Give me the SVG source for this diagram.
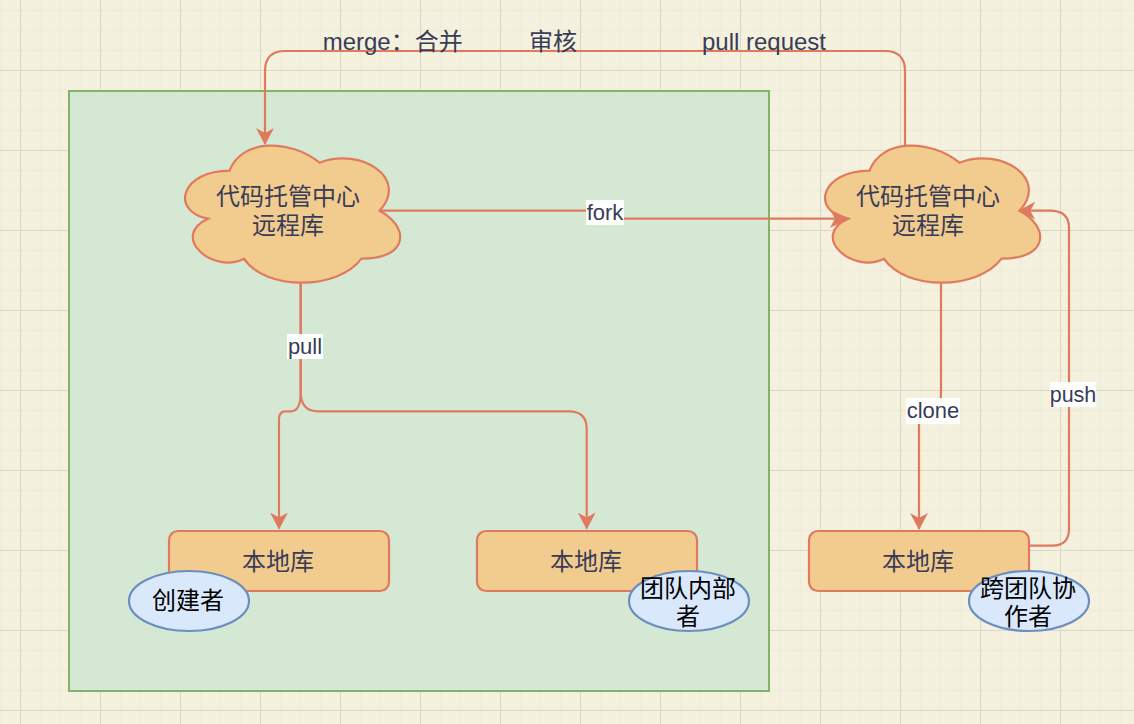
<svg xmlns="http://www.w3.org/2000/svg" width="1134" height="724" viewBox="0 0 1134 724">
<style>
.n{fill:#F2CC8F;stroke:#E07A5F;stroke-width:2.2}
.e{fill:#dae8fc;stroke:#6c8ebf;stroke-width:2.2}
.c{fill:none;stroke:#E07A5F;stroke-width:2.2}
.t{font-family:"Liberation Sans","Noto Sans CJK SC",sans-serif;font-size:24px;fill:#393C56;text-anchor:middle}
.b{fill:#000}
.l{font-family:"Liberation Sans","Noto Sans CJK SC",sans-serif;font-size:22px;fill:#393C56;text-anchor:middle}
.lb{fill:#fff;stroke:none}
</style>
<defs>
<marker id="a" markerUnits="userSpaceOnUse" markerWidth="20" markerHeight="20" refX="16" refY="9" orient="auto"><path d="M0 0L17 9L0 18L5 9Z" fill="#E07A5F"/></marker>
<marker id="f" markerUnits="userSpaceOnUse" markerWidth="22" markerHeight="20" refX="19" refY="9" orient="auto"><path d="M0 0L20 9L0 18L5 9Z" fill="#E07A5F"/></marker>
<pattern id="g" x="20" y="-10" width="80" height="80" patternUnits="userSpaceOnUse">
<path d="M20.500 0V80M40.500 0V80M60.500 0V80M0 20.500H80M0 40.500H80M0 60.500H80" stroke="#efedd9" stroke-width="2" fill="none"/>
<path d="M0.500 0V80M0 0.500H80" stroke="#dad7c5" stroke-width="1" fill="none"/>
</pattern>
<path id="cloud" d="M60 40C12 40 0 80 38.400 88C0 105.600 43.200 144 74.400 128C96 160 168 160 192 128C240 128 240 96 210 80C240 48 192 16 150 32C120 8 72 8 60 40Z"/>
</defs>
<rect width="1134" height="724" fill="#F4F1DE"/>
<rect width="1134" height="724" fill="url(#g)"/>
<rect id="container" x="69" y="91" width="700" height="600" fill="#d5e8d4" stroke="#82b366" stroke-width="2"/>
<g id="cloud-left"><use href="#cloud" x="169.500" y="130.700" class="n"/><text class="t" x="288" y="205">代码托管中心</text><text class="t" x="288" y="234">远程库</text></g>
<g id="cloud-right"><use href="#cloud" x="809.500" y="130.700" class="n"/><text class="t" x="928" y="205">代码托管中心</text><text class="t" x="928" y="234">远程库</text></g>
<g id="local-1"><rect class="n" x="169" y="531" width="220" height="60" rx="9"/><text class="t" x="278" y="570">本地库</text></g>
<g id="local-2"><rect class="n" x="477" y="531" width="220" height="60" rx="9"/><text class="t" x="586" y="570">本地库</text></g>
<g id="local-3"><rect class="n" x="809" y="531" width="220" height="60" rx="9"/><text class="t" x="918" y="570">本地库</text></g>
<g id="connectors">
<path class="c" marker-end="url(#a)" d="M905 146V71Q905 51 885 51H285Q265 51 265 71V144"/>
<path class="c" marker-end="url(#f)" d="M380 210.700H605V218.700H849"/>
<path class="c" marker-end="url(#a)" d="M300.700 283V392C300.700 405 298 411.300 291 411.300H285C281 411.300 279 414 279 420V528.500"/>
<path class="c" marker-end="url(#a)" d="M300.700 283V392C300.700 405 306 411.300 318 411.300H569C581 411.300 586.700 417 586.700 429V528.500"/>
<path class="c" marker-end="url(#a)" d="M941 283V392C941 405 938 411 931 411H925C921 411 919 414 919 420V529"/>
<path class="c" marker-end="url(#a)" d="M1029 545.700H1052Q1069 545.700 1069 529V228Q1069 210.700 1050 210.700H1019.300"/>
</g>
<g id="labels">
<rect class="lb" x="586" y="200" width="38" height="25"/><text class="l" x="605" y="220">fork</text>
<rect class="lb" x="287" y="334" width="36" height="25"/><text class="l" x="305" y="354">pull</text>
<rect class="lb" x="906" y="398" width="54" height="26"/><text class="l" x="933" y="418">clone</text>
<rect class="lb" x="1050" y="382" width="46" height="25"/><text class="l" x="1073" y="402" style="font-size:21.500px">push</text>
<text class="t" x="392.700" y="50">merge：合并</text>
<text class="t" x="553" y="50">审核</text>
<text class="t" x="764" y="50">pull request</text>
</g>
<g id="role-1"><ellipse class="e" cx="189" cy="601" rx="60" ry="30"/><text class="t b" x="188" y="609">创建者</text></g>
<g id="role-2"><ellipse class="e" cx="689" cy="601" rx="60" ry="30"/><text class="t b" x="688" y="597">团队内部</text><text class="t b" x="688" y="625">者</text></g>
<g id="role-3"><ellipse class="e" cx="1029" cy="601" rx="60" ry="30"/><text class="t b" x="1028" y="597">跨团队协</text><text class="t b" x="1028" y="625">作者</text></g>
</svg>
